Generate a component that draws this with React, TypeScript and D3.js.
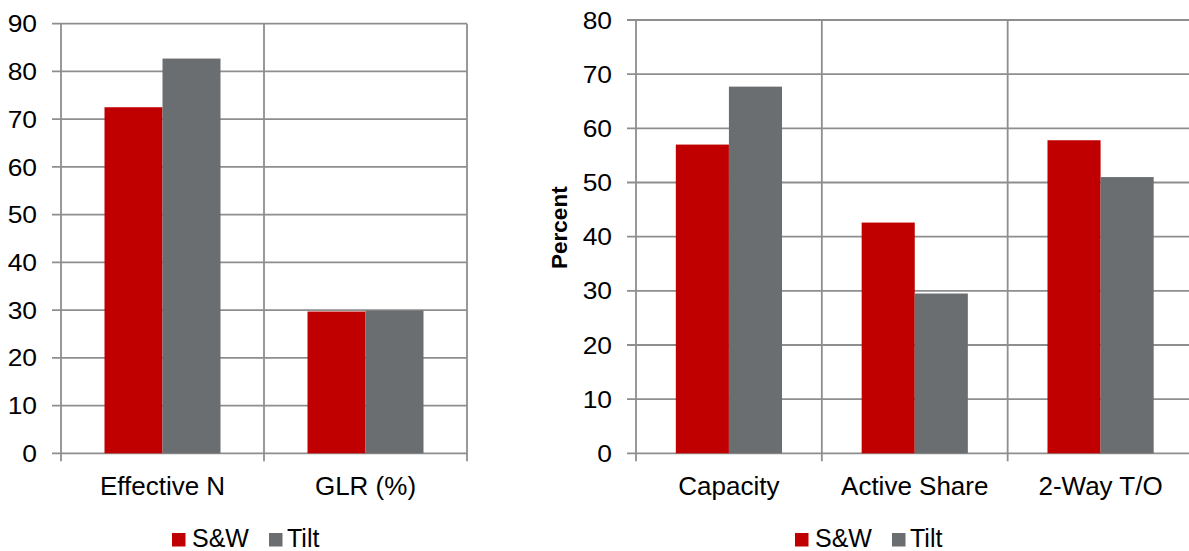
import React from "react";
import * as d3 from "d3";

// Left panel
const leftCategories = ["Effective N", "GLR (%)"];
const leftSW = [72.5, 29.7];
const leftTilt = [82.7, 29.9];
const leftTicks = [0, 10, 20, 30, 40, 50, 60, 70, 80, 90];

// Right panel
const rightCategories = ["Capacity", "Active Share", "2-Way T/O"];
const rightSW = [57.0, 42.6, 57.8];
const rightTilt = [67.7, 29.5, 51.0];
const rightTicks = [0, 10, 20, 30, 40, 50, 60, 70, 80];

const seriesNames = ["S&W", "Tilt"];
const seriesColors = ["#C00000", "#6A6E71"];

const FONT = "'Liberation Sans', Arial, sans-serif";
const GRID = "#8E8E8E";

type PanelProps = {
  categories: string[];
  series: number[][];
  ticks: number[];
  x0: number;
  x1: number;
  yTop: number;
  yBottom: number;
  legendX: number;
  yLabel?: string;
  yLabelX?: number;
};

function Panel({ categories, series, ticks, x0, x1, yTop, yBottom, legendX, yLabel, yLabelX }: PanelProps) {
  const yMax = ticks[ticks.length - 1];
  const y = d3.scaleLinear().domain([0, yMax]).range([yBottom, yTop]);
  const xCat = d3.scaleBand<string>().domain(categories).range([x0, x1]).padding(0);
  const bw = xCat.bandwidth();
  // gap width 150%: two bars share 2/3.5 of each category slot
  const gap = (bw * 1.5) / 3.5;
  const xSeries = d3
    .scaleBand<number>()
    .domain(series.map((_, i) => i))
    .range([gap / 2, bw - gap / 2])
    .padding(0);

  const boundaries = [x0, ...categories.map((c) => (xCat(c) as number) + bw)];

  return (
    <g>
      {/* horizontal gridlines with left tick marks */}
      {ticks.map((t) => (
        <line key={"h" + t} x1={x0 - 9} x2={x1} y1={y(t)} y2={y(t)} stroke={GRID} strokeWidth={1.8} />
      ))}
      {/* vertical gridlines at category boundaries, extending below as ticks */}
      {boundaries.map((bx, i) => (
        <line key={"v" + i} x1={bx} x2={bx} y1={yTop} y2={yBottom + 8} stroke={GRID} strokeWidth={1.8} />
      ))}
      {/* bars */}
      {categories.map((c, ci) =>
        series.map((vals, si) => (
          <rect
            key={c + si}
            x={(xCat(c) as number) + (xSeries(si) as number)}
            y={y(vals[ci])}
            width={xSeries.bandwidth()}
            height={y(0) - y(vals[ci])}
            fill={seriesColors[si]}
          />
        ))
      )}
      {/* y tick labels */}
      {ticks.map((t) => (
        <text
          key={"t" + t}
          x={x0 - 24}
          y={y(t)}
          dy="0.36em"
          textAnchor="end"
          fontFamily={FONT}
          fontSize={24}
          fill="#000"
          transform={`translate(${x0 - 24},0) scale(1.1,1) translate(${-(x0 - 24)},0)`}
        >
          {t}
        </text>
      ))}
      {/* category labels */}
      {categories.map((c) => (
        <text
          key={"c" + c}
          x={(xCat(c) as number) + bw / 2}
          y={495}
          textAnchor="middle"
          fontFamily={FONT}
          fontSize={26}
          fill="#000"
        >
          {c}
        </text>
      ))}
      {yLabel && yLabelX !== undefined && (
        <text
          transform={`translate(${yLabelX},${(yTop + yBottom) / 2 - 9}) rotate(-90)`}
          textAnchor="middle"
          fontFamily={FONT}
          fontSize={22.5}
          fontWeight="bold"
          fill="#000"
        >
          {yLabel}
        </text>
      )}
      {/* legend */}
      <g transform={`translate(${legendX},0)`}>
        <rect x={0} y={533} width={13.5} height={13.5} fill={seriesColors[0]} />
        <text x={20} y={547} fontFamily={FONT} fontSize={25} fill="#000">
          {seriesNames[0]}
        </text>
        <rect x={97} y={533} width={13.5} height={13.5} fill={seriesColors[1]} />
        <text x={115} y={547} fontFamily={FONT} fontSize={25} fill="#000">
          {seriesNames[1]}
        </text>
      </g>
    </g>
  );
}

export default function App() {
  return (
    <svg
      width={1189}
      height={551}
      style={{ position: "absolute", left: 0, top: 0, background: "#fff" }}
    >
      <rect width={1189} height={551} fill="#fff" />
      <Panel
        categories={leftCategories}
        series={[leftSW, leftTilt]}
        ticks={leftTicks}
        x0={61}
        x1={467}
        yTop={23.7}
        yBottom={453.3}
        legendX={172}
      />
      <Panel
        categories={rightCategories}
        series={[rightSW, rightTilt]}
        ticks={rightTicks}
        x0={636}
        x1={1193.5}
        yTop={20}
        yBottom={453.3}
        legendX={795}
        yLabel="Percent"
        yLabelX={567}
      />
    </svg>
  );
}
